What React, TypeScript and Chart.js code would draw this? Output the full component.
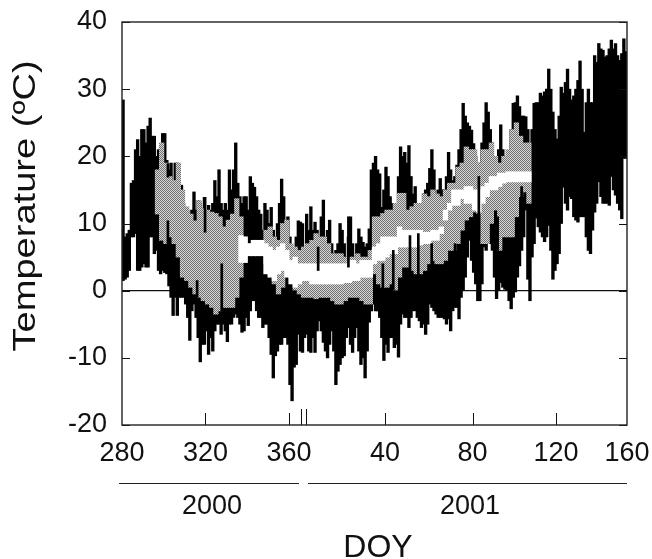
import React, { useEffect, useRef } from "react";
import { Chart, registerables } from "chart.js";

Chart.register(...registerables);

// x positions are days since DOY 280 of 2000, as drawn on the axis
const blackHigh = [
  28.4, 8, 8.5, 9, 16, 16.4, 21, 22.5, 20, 24,
  24, 22, 24.5, 25.7, 23, 23, 20, 21, 21.5, 23.4,
  23.4, 19.4, 18, 19, 16, 19, 19, 16, 15.7, 13,
  12, 12, 11, 12, 14.7, 12, 13.4, 13, 12, 13.9,
  11, 12.7, 12, 13, 16.4, 14, 18, 13, 12, 13,
  12, 18, 15, 18, 22, 16, 14, 13, 14, 14,
  12, 17, 16, 15.4, 14, 12, 11.4, 9, 13, 12,
  10, 12.4, 9, 8, 10, 13, 16.6, 14, 10, 11,
  8, 5.5, 5, 8, 10.4, 10.2, 10, 5, 11.4, 9,
  12.5, 9, 10.2, 9, 7.5, 11, 13.5, 8, 9, 10.5,
  7, 5.5, 6, 7, 10, 9, 7, 5, 8, 11,
  7, 5, 7, 9.2, 8, 7.2, 6.5, 7, 9.2, 18,
  19, 20, 18, 17.4, 12.4, 15, 18.4, 17, 14, 13,
  12, 12, 17, 21.4, 20, 20.6, 19, 21.6, 17, 14.4,
  15.5, 13, 13, 12, 14.4, 15, 16, 18.2, 21, 18,
  14, 15, 16.7, 15, 15, 17, 20.6, 18, 16.4, 17,
  18.7, 21, 24, 27.9, 26, 25, 24.5, 23.9, 21.9, 20,
  16, 19, 22, 25, 28, 26.6, 24, 22, 20, 18.7,
  21, 24.7, 21, 19, 19, 20.6, 24, 27.9, 28, 29,
  27.4, 26, 26, 25.9, 24, 19.7, 24, 27.9, 28, 28,
  29.4, 29, 29.6, 30, 33, 30, 26.6, 24, 22.6, 26,
  30.3, 29.4, 31, 33, 30, 28.4, 29, 30, 31.3, 34.2,
  30, 23.6, 28, 30, 28, 28, 35, 34, 36.8, 36,
  35.8, 34.8, 35, 36, 37.3, 36, 36.8, 35, 34.3, 35.3,
  37.5, 35.6,
];
const blackLow = [
  1.5, 1.7, 2, 3, 8, 8, 8.5, 3, 3, 3.5,
  4, 3.5, 3.5, 8, 8, 5.5, 6, 3, 2.5, 3,
  2.7, 2.5, 0.7, -1, -3.7, -1, -3.7, -1, -1, -1,
  -2, -4, -7.4, -3, -2, -4, -7, -10.6, -8, -8,
  -6, -9.5, -7, -9, -6, -5, -5, -6.5, -5, -6,
  -7.6, -5, -5, -4, -3.5, -4, -5, -6.2, -6, -4,
  -5.2, -3, -1.5, -1.5, -3, -4, -4, -5.5, -5, -5,
  -7, -9.5, -13, -9.7, -9, -8, -8, -7, -7, -8,
  -14, -16.4, -11.4, -11, -6.5, -9, -9.2, -7, -6.5, -9,
  -9.2, -7, -9.2, -6, -4.5, -6, -7.7, -9, -10, -8,
  -6, -9, -14, -12, -11, -10, -9.7, -7, -5.5, -8,
  -9.2, -7, -5.5, -9, -11, -10, -13, -9, -4.7, -3,
  -2, -3, -3, -4, -7, -10.4, -8, -9.2, -7, -7,
  -8.5, -8, -9.9, -5, -3.5, -4, -4, -5.5, -4, -3,
  -3, -4, -4.5, -5.5, -5, -6.5, -5, -2, -2.5, -3,
  -3.5, -4, -4, -4, -4.2, -5, -4.2, -6, -3, -2.5,
  -2.5, -4.2, -1, 0, 2, 5, 7.5, 4.5, 2.7, 1,
  -1.5, -1.5, 1, 6.5, 6, 7.7, 7, 6, 2, -1.2,
  0, 1.2, 0.5, 0.2, 0, -1.5, -2.7, -1, -0.2, 2,
  3.7, 6, 8, 12, 1.7, -1.5, 5, 7, 10.8, 9.5,
  8.7, 8, 7.3, 8, 9.7, 6, 1.7, 3, 4, 5.5,
  10, 15.4, 13, 12, 14, 13.7, 11, 10.5, 10.2, 11,
  11, 11, 8, 6, 5.5, 9, 11.7, 13, 16.2, 14,
  13, 13, 13, 12.7, 17, 15, 14.2, 13, 12, 10.7,
  19.7, 19.7,
];

const greyStart = 16;
const greyHigh = [
  18, 22, 19, 17, 16.4, 19, 15, 12.5, 11.4, 10.4,
  13.4, 12.2, 12, 11.7, 11.5, 11, 9.5, 10.5, 11.4, 13.7,
  11, 8, 7, 7.5, 7.5, 7.5, 9, 9.5, 8, 7.5,
  10, 10.5, 7, 6.5, 6, 6.5, 7, 7.5, 8.5, 8,
  8, 7, 5.5, 5.5, 5.5, 5, 5, 5, 5.5, 5,
  5, 6, 11, 11, 11.5, 12, 12, 13, 14.5, 14.5,
  12, 12.5, 13, 13, 14.4, 14, 15, 14.4, 14, 15,
  16, 16, 18.4, 19, 21.4, 21, 21, 19, 21, 21,
  22, 20, 19, 20, 21, 24, 25, 23, 22, 22,
];
const greyLow = [
  11.4, 7.5, 7, 8, 7, 5, 2, 1.5, 0.5, -0.5,
  -1, -1.5, -2, -2.5, -3.5, -3, -2.5, -2.5, -2.5, -1,
  2, 4.2, 5.2, 5.2, 5.2, 5.2, 4, 2.5, 1, -0.5,
  0.5, 2.5, 2, 0, -0.5, -1, -1, -1, -1.2, -1,
  -1, -1, -1.5, -2, -2, -1.5, -1, -1, -1, -1.5,
  -2, -2, 2.5, 1, 0.5, 0.5, 1, 0, 2, 3.5,
  3.5, 3, 2.5, 2.5, 3, 4, 4.5, 4, 4, 4.5,
  6, 6, 7, 9, 10.5, 11, 11.7, 11.5, 7, 7,
  10, 12, 6, 8, 8, 8, 11, 14, 14.7, 13,
];

const whiteStart = 56;
const whiteHigh = [
  8.2, 8, 7, 7.5, 7.5, 7.5, 7, 6.5, 6, 6.5,
  7, 6, 4.5, 5, 4, 4, 4, 4, 4, 4,
  4, 4, 4, 4, 4, 4, 4.5, 4.5, 4, 4.5,
  4.5, 4.5, 6.5, 7, 8, 8, 8, 8, 9.5, 9,
  9, 9, 9, 9, 8.7, 8.7, 9, 9, 9.5, 12,
  13, 15, 15, 15, 15.5, 15.5, 15, 15, 15.5, 16,
  17, 17, 17.5, 17.5, 17.7, 17.7, 17.7, 17.7, 17.7, 17.7,
];
const whiteLow = [
  4.2, 4.2, 5.2, 5.2, 5.2, 5.2, 2.5, 2, 1.5, 2.5,
  3, 2, 1, 0.5, 1, 1.5, 1.5, 1, 1, 1,
  1, 1, 1, 1, 1, 1.2, 1.2, 1.5, 1.5, 2,
  2, 2, 4, 4.5, 4.5, 5, 5.5, 5.5, 6.5, 6.5,
  6.5, 6.5, 6.5, 6.8, 7, 7, 7.5, 7.5, 8.5, 10.5,
  12, 12.7, 12.7, 13.7, 13, 13, 12, 11.7, 13, 14,
  15, 15, 15.5, 16, 16.2, 16.2, 16.2, 16.2, 16.2, 16.2,
];

const spikeDays = [22, 22, 39.8, 47.8, 36, 94, 108.5, 125, 130, 138, 142, 148.4, 159.6, 171, 180, 191.5];
const spikeLow = [16.9, 5.5, 8.7, -3, -1, 3, 3.5, 0, 0, 2, 2, 1.5, 1.5, 8, 6, 11];
const spikeHigh = [18.9, 10.4, 13.9, 4, 1.5, 6.5, 11, 4, 6, 8.2, 8.5, 7, 7, 17, 11, 15.5];

const xTickDays = [0, 40, 80, 86, 88, 126, 168, 208, 242];
const xTickLabels: Record<number, string> = { 0: "280", 40: "320", 80: "360", 126: "40", 168: "80", 208: "120", 242: "160" };
const yearLabels = ["2000", "2001"];
const xTitle = "DOY";
const yTitle = "Temperature (ºC)";
const FONT = '"Liberation Sans", Arial, sans-serif';

const overlay = {
  id: "overlay",
  afterDatasetsDraw(chart: any) {
    const { ctx, chartArea: a, scales } = chart;
    ctx.save();
    ctx.strokeStyle = "#111";
    ctx.lineWidth = 1;
    ctx.beginPath();
    for (const t of scales.x.ticks) {
      const isLong = t.value === 86 || t.value === 88;
      if (t.value === 0 || t.value === 242) continue;
      const px = Math.round(scales.x.getPixelForValue(t.value)) + 0.5;
      ctx.moveTo(px, a.bottom);
      ctx.lineTo(px, a.bottom - (isLong ? 16 : 12));
    }
    for (const t of scales.y.ticks) {
      const py = Math.round(scales.y.getPixelForValue(t.value)) + 0.5;
      ctx.moveTo(a.left, py);
      ctx.lineTo(a.left + 8, py);
      ctx.moveTo(a.right, py);
      ctx.lineTo(a.right - 8, py);
    }
    ctx.stroke();
    ctx.strokeStyle = "#222";
    ctx.lineWidth = 1.4;
    ctx.strokeRect(a.left, a.top, a.right - a.left, a.bottom - a.top);

    ctx.fillStyle = "#111";
    ctx.lineWidth = 1.2;
    ctx.beginPath();
    ctx.moveTo(119, 483.5);
    ctx.lineTo(299, 483.5);
    ctx.moveTo(308, 483.5);
    ctx.lineTo(627, 483.5);
    ctx.stroke();
    ctx.textAlign = "center";
    ctx.textBaseline = "middle";
    ctx.font = `27px ${FONT}`;
    ctx.fillText(yearLabels[0], 212, 507);
    ctx.fillText(yearLabels[1], 470, 507);
    ctx.font = `32px ${FONT}`;
    ctx.fillText(xTitle, 378, 548);
    ctx.save();
    ctx.translate(26, 206);
    ctx.rotate(-Math.PI / 2);
    ctx.font = `32px ${FONT}`;
    ctx.scale(1.19, 1);
    ctx.fillText(yTitle, 0, 0);
    ctx.restore();
    ctx.restore();
  },
};

export default function App() {
  const ref = useRef<HTMLCanvasElement>(null);
  useEffect(() => {
    document.body.style.margin = "0";
    const pc = document.createElement("canvas");
    pc.width = 2;
    pc.height = 2;
    const p = pc.getContext("2d")!;
    p.fillStyle = "#d8d8d8";
    p.fillRect(0, 0, 2, 2);
    p.fillStyle = "#707070";
    p.fillRect(0, 0, 1, 1);
    p.fillRect(1, 1, 1, 1);
    const pattern = ref.current!.getContext("2d")!.createPattern(pc, "repeat")!;

    const range = (hi: number[], lo: number[], start: number, step: number) =>
      hi.map((h, i) => ({ x: start + i * step + step / 2, y: [lo[i], h] }));

    const chart = new Chart(ref.current!, {
      type: "bar",
      data: {
        datasets: [
          { data: range(blackHigh, blackLow, 0, 1) as any, backgroundColor: "#000", barThickness: 2.7, grouped: false, order: 4 },
          { data: range(greyHigh, greyLow, greyStart, 2) as any, backgroundColor: pattern as any, barThickness: 4.6, grouped: false, order: 3 },
          { data: range(whiteHigh, whiteLow, whiteStart, 2) as any, backgroundColor: "#fff", barThickness: 4.6, grouped: false, order: 2 },
          { data: spikeDays.map((d, i) => ({ x: d, y: [spikeLow[i], spikeHigh[i]] })) as any, backgroundColor: "#000", barThickness: 2, grouped: false, order: 1 },
        ],
      },
      options: {
        animation: false,
        responsive: false,
        layout: { autoPadding: false, padding: { top: 22, right: 25, left: 0, bottom: 0 } },
        plugins: { legend: { display: false }, tooltip: { enabled: false } },
        scales: {
          x: {
            type: "linear",
            offset: false,
            min: 0,
            max: 242,
            afterFit: (s: any) => { s.height = 134; s.paddingLeft = 0; s.paddingRight = 0; },
            afterBuildTicks: (s: any) => { s.ticks = xTickDays.map((value) => ({ value })); },
            grid: { display: false },
            border: { display: false },
            ticks: {
              autoSkip: false,
              maxRotation: 0,
              padding: 4,
              color: "#111",
              font: { family: FONT, size: 27 },
              callback: (v: any) => xTickLabels[v as number] ?? "",
            },
          },
          y: {
            min: -20,
            max: 40,
            afterFit: (s: any) => { s.width = 122; s.paddingTop = 0; s.paddingBottom = 0; },
            grid: {
              drawTicks: false,
              color: (c: any) => (c.tick.value === 0 ? "#111" : "transparent"),
              lineWidth: 1.2,
            },
            border: { display: false },
            ticks: {
              stepSize: 5,
              padding: 15,
              color: "#111",
              font: { family: FONT, size: 27 },
              callback: (v: any) => ((v as number) % 10 === 0 ? String(v) : ""),
            },
          },
        },
      },
      plugins: [overlay],
    });
    return () => chart.destroy();
  }, []);
  return <canvas ref={ref} width={652} height={559} style={{ display: "block" }} />;
}
